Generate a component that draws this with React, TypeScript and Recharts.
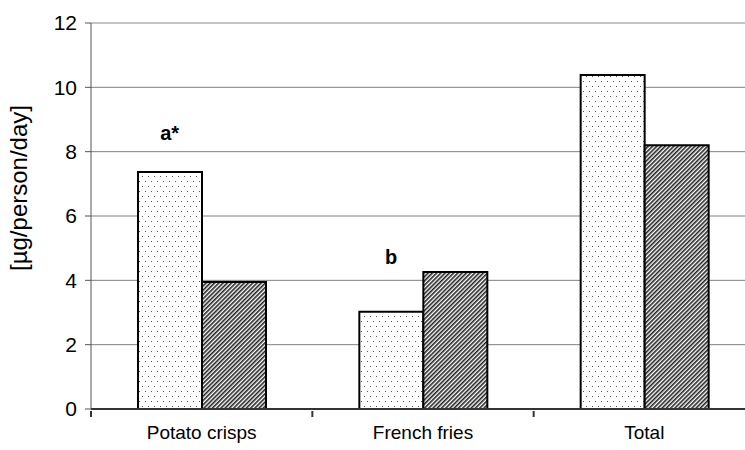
import { BarChart, Bar, XAxis, YAxis, CartesianGrid, ReferenceLine, ReferenceDot } from "recharts";

const categories = ["Potato crisps", "French fries", "Total"];
const dottedValues = [7.37, 3.02, 10.38];
const hatchedValues = [3.95, 4.26, 8.2];
const yTicks = [0, 2, 4, 6, 8, 10, 12];

const noteLabels = ["a*", "b"];
const noteCategories = ["Potato crisps", "French fries"];
const noteValues = [8.58, 4.72];

const data = categories.map((name, i) => ({
  name,
  dotted: dottedValues[i],
  hatched: hatchedValues[i],
}));

const FONT = "'Liberation Sans', Arial, sans-serif";

const YLabel = ({ viewBox }: any) => {
  const x = viewBox.x + 18;
  const y = viewBox.y + viewBox.height / 2 - 28;
  return (
    <text x={x} y={y} transform={`rotate(-90, ${x}, ${y})`} textAnchor="middle" dominantBaseline="central"
      fontSize={24} fontFamily={FONT} fill="#000">
      [µg/person/day]
    </text>
  );
};

// category label in the middle, tick mark on the left edge of each band (Excel style)
const CatTick = ({ x, y, payload }: any) => {
  const half = payload.offset ?? 0;
  return (
    <g>
      <line x1={x - half} x2={x - half} y1={y} y2={y + 6} stroke="#333" strokeWidth={2} />
      <text x={x} y={y + 15} dy="0.71em" textAnchor="middle" fontSize={19} fontFamily={FONT} fill="#000">
        {payload.value}
      </text>
    </g>
  );
};

export default function App() {
  return (
    <div style={{ position: "absolute", left: 0, top: 0, width: 745, height: 450, overflow: "hidden", background: "#fff" }}>
      <BarChart width={770} height={450} data={data} margin={{ top: 23, right: 15, bottom: 0, left: 0 }} barGap={0} barSize={64}>
        <defs>
          <pattern id="dots" width="6" height="10" patternUnits="userSpaceOnUse">
            <rect width="6" height="10" fill="#fff" />
            <rect x="1" y="1" width="1" height="1" fill="#555" />
            <rect x="4" y="6" width="1" height="1" fill="#555" />
          </pattern>
          <pattern id="hatch" width="3" height="3" patternUnits="userSpaceOnUse" patternTransform="rotate(45)">
            <rect width="3" height="3" fill="#fff" />
            <rect width="1.6" height="3" fill="#222" />
          </pattern>
        </defs>
        <CartesianGrid vertical={false} stroke="#808080" />
        <ReferenceLine y={12} stroke="#c8c8c8" />
        <XAxis dataKey="name" height={41} axisLine={{ stroke: "#333", strokeWidth: 2 }} tickLine={false}
          tickSize={0} tick={<CatTick />} interval={0} />
        <YAxis domain={[0, 12]} ticks={yTicks} width={91} tickSize={6} tickMargin={8} interval={0}
          axisLine={{ stroke: "#555" }} tickLine={{ stroke: "#555" }}
          tick={{ fill: "#000", fontSize: 21, fontFamily: FONT }} label={<YLabel />} />
        <Bar dataKey="dotted" fill="url(#dots)" stroke="#000" strokeWidth={2} isAnimationActive={false} />
        <Bar dataKey="hatched" fill="url(#hatch)" stroke="#000" strokeWidth={2} isAnimationActive={false} />
        {noteLabels.map((t, i) => (
          <ReferenceDot key={t} x={noteCategories[i]} y={noteValues[i]} r={0} stroke="none"
            label={{ value: t, position: "center", dx: -32, fontSize: 20, fontWeight: "bold", fill: "#000", fontFamily: FONT }} />
        ))}
      </BarChart>
    </div>
  );
}
